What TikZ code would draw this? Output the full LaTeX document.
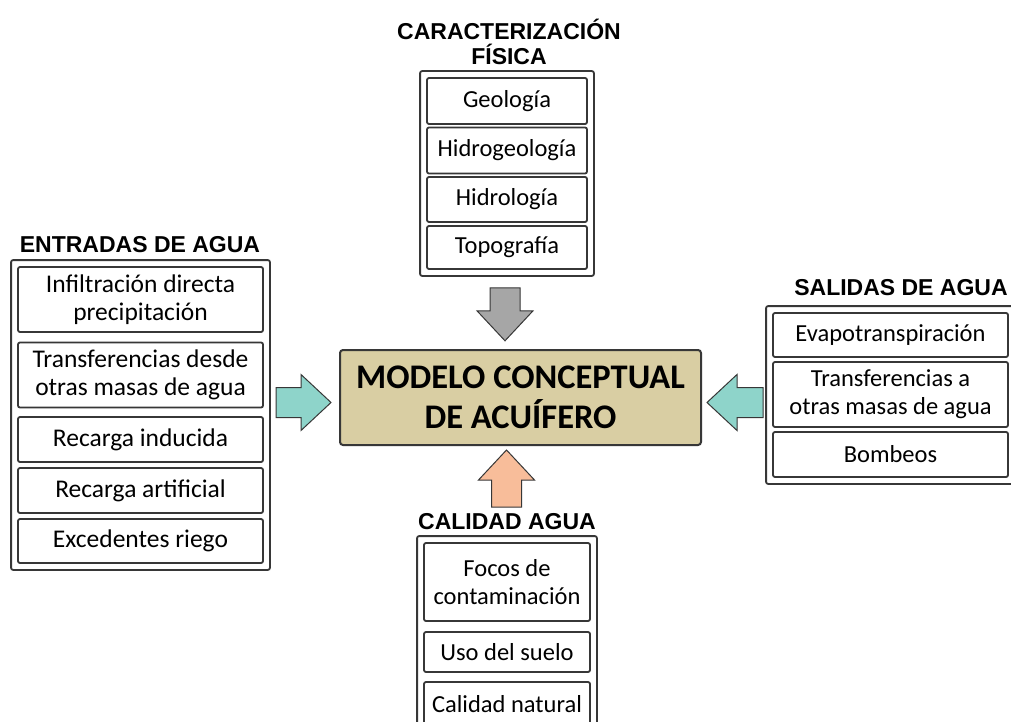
\documentclass[tikz,border=0pt]{standalone}
\usepackage{fontspec}
\usepackage{tikz}
\usetikzlibrary{calc,fit,positioning}

\newfontfamily\headsf{Liberation Sans}
\newfontfamily\itemsf{Carlito}

\definecolor{linec}{RGB}{55,55,55}
\definecolor{coretan}{RGB}{217,206,163}
\definecolor{inflow}{RGB}{142,212,202}
\definecolor{physgrey}{RGB}{166,166,166}
\definecolor{quality}{RGB}{248,189,154}

% block arrow: start point, angle, length, style
\newcommand{\fatarrow}[4]{%
 \filldraw[#4,shift={(#1)},rotate=#2] (0,15) -- (#3-30,15) -- (#3-30,28) -- (#3,0)
   -- (#3-30,-28) -- (#3-30,-15) -- (0,-15) -- cycle;}

\tikzset{
 item/.style={draw=linec, line width=1.8pt, rounded corners=2pt, fill=white,
   align=center, inner sep=0pt, font=\itemsf\fontsize{24.5}{28}\selectfont},
 itemwide/.style={item, font=\itemsf\fontsize{25.5}{28}\selectfont},
 groupbox/.style={draw=linec, line width=1.8pt, rounded corners=2pt, inner sep=6pt},
 heading/.style={align=center, inner sep=0pt, font=\headsf\bfseries\fontsize{23}{25}\selectfont},
 core/.style={draw=linec, line width=2pt, rounded corners=3pt, fill=coretan, align=center,
   font=\itemsf\bfseries\fontsize{34.5}{40}\selectfont},
 blockarrow/.style={draw=linec, line width=1pt, line join=miter}
}

\begin{document}
\begin{tikzpicture}[x=1pt,y=-1pt]
 \useasboundingbox[fill=white] (0,0) rectangle (1011,722);

% central box
 \node[core, minimum width=361pt, minimum height=95pt] (modelo) at (520.5,397.5)
   {MODELO CONCEPTUAL\\DE ACUÍFERO};

% caracterizacion fisica (top)
 \node[heading] (fisT) at (509,42) {CARACTERIZACIÓN\\FÍSICA};
 \node[item, minimum width=160pt, minimum height=46pt] (geo) at (507,101) {Geología};
 \node[item, minimum width=160pt, minimum height=46pt] (hgeo) at (507,150.5) {Hidrogeología};
 \node[item, minimum width=160pt, minimum height=45pt] (hidro) at (507,199.5) {Hidrología};
 \node[item, minimum width=160pt, minimum height=43pt] (topo) at (507,247.5) {Topografía};
 \node[groupbox, fit=(geo)(topo)] (fisbox) {};

% entradas de agua (left)
 \node[heading] (entT) at (140,245) {ENTRADAS DE AGUA};
 \node[itemwide, minimum width=245pt, minimum height=65pt] (infil) at (140.5,299.5)
   {Infiltración directa\\precipitación};
 \node[itemwide, minimum width=245pt, minimum height=65pt] (transin) at (140.5,375)
   {Transferencias desde\\otras masas de agua};
 \node[itemwide, minimum width=245pt, minimum height=45pt] (inducida) at (140.5,439.5) {Recarga inducida};
 \node[itemwide, minimum width=245pt, minimum height=45pt] (artif) at (140.5,490.5) {Recarga artificial};
 \node[itemwide, minimum width=245pt, minimum height=44pt] (riego) at (140.5,541) {Excedentes riego};
 \node[groupbox, fit=(infil)(riego)] (entradas) {};

% salidas de agua (right)
 \node[heading] (salT) at (901,288) {SALIDAS DE AGUA};
 \node[item, minimum width=235pt, minimum height=44pt] (evapo) at (890.5,335) {Evapotranspiración};
 \node[item, minimum width=235pt, minimum height=65pt] (transout) at (890.5,394.5)
   {Transferencias a\\otras masas de agua};
 \node[item, minimum width=235pt, minimum height=45pt] (bombeo) at (890.5,454.5) {Bombeos};
 \node[groupbox, fit=(evapo)(bombeo)] (salidas) {};

% calidad agua (bottom)
 \node[heading] (calT) at (507,522) {CALIDAD AGUA};
 \node[item, minimum width=166pt, minimum height=78pt] (focos) at (507,582)
   {Focos de\\contaminación};
 \node[item, minimum width=166pt, minimum height=40pt] (suelo) at (507,652) {Uso del suelo};
 \node[item, minimum width=166pt, minimum height=44pt] (natural) at (507,704) {Calidad natural};
 \node[groupbox, fit=(focos)(natural)] (calbox) {};

% arrows into the model
 \coordinate (fromfis) at ($(fisbox.south)+(-2,11)$);
 \coordinate (fromcal) at ($(modelo.south)+(-14,61)$);
 \coordinate (froment) at ($(modelo.west)+(-63,5)$);
 \coordinate (fromsal) at ($(modelo.east)+(61,5)$);
 \fatarrow{fromfis}{-90}{53}{blockarrow,fill=physgrey}
 \fatarrow{fromcal}{90}{57}{blockarrow,fill=quality}
 \fatarrow{froment}{0}{55}{blockarrow,fill=inflow}
 \fatarrow{fromsal}{180}{56}{blockarrow,fill=inflow}

\end{tikzpicture}
\end{document}
